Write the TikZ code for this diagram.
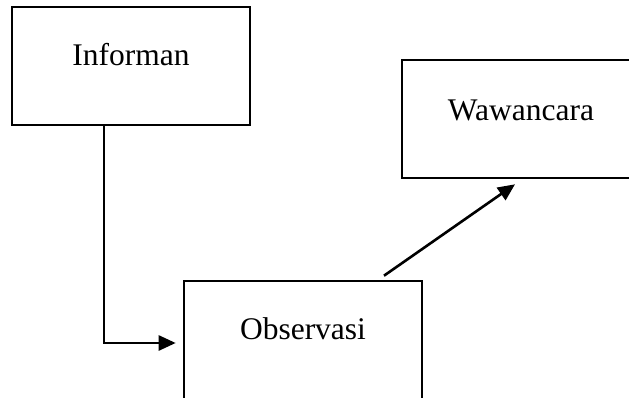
\documentclass[tikz,border=0pt]{standalone}
\usepackage{fontspec}
\setmainfont{Liberation Serif}
\usetikzlibrary{arrows.meta}

\tikzset{
  kotak/.style={draw, line width=2.6pt, minimum width=238pt, minimum height=118pt, inner sep=0pt},
  teks/.style={font=\fontsize{31.5}{36}\selectfont, inner sep=0pt},
  link/.style={line width=2.6pt, -{Triangle[length=17pt,width=15pt]}}
}

\begin{document}
\begin{tikzpicture}[x=1pt,y=-1pt]
    \clip(0,0)rectangle(629,398);
    \node[kotak, label={[teks,yshift=11pt]center:Informan}] (informan) at (131,66) {};
    \node[kotak, label={[teks,yshift=9pt]center:Wawancara}] (wawancara) at (521,119) {};
    \node[kotak, minimum height=122pt, label={[teks,yshift=13pt]center:Observasi}] (observasi) at (303,342) {};
    \draw[link, shorten >=7pt]([xshift=-27pt]informan.south) |- ([yshift=-1pt]observasi.west);
    \draw[link]([xshift=81pt,yshift=4pt]observasi.north) -- ([xshift=-6pt,yshift=-5pt]wawancara.south);
\end{tikzpicture}
\end{document}
